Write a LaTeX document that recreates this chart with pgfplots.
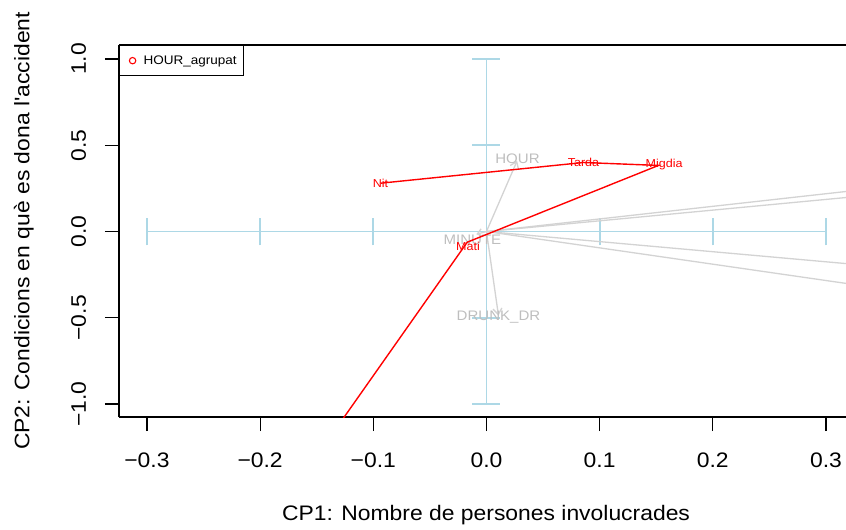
\documentclass[border=0pt]{standalone}
\usepackage{fontspec}
\setmainfont[FakeStretch=1.09]{Liberation Sans}
\newfontfamily\nolig[FakeStretch=1.09, Ligatures=TeXOff]{Liberation Sans}
\usepackage{pgfplots}
\pgfplotsset{compat=1.18}
\usetikzlibrary{arrows.meta}
\definecolor{lblue}{HTML}{ADD8E6}
\definecolor{lgrey}{HTML}{D3D3D3}
\definecolor{tgrey}{HTML}{BEBEBE}
\begin{document}
\begin{tikzpicture}
\begin{axis}[
  at={(0,0)}, anchor=south west,
  scale only axis, width=727bp, height=372bp,
  xmin=-0.3247, xmax=0.3177, ymin=-1.075, ymax=1.081,
  axis x line*=box, axis y line*=left,
  axis line style={black, line width=1.2bp, -},
  xtick={-0.3,-0.2,-0.1,0,0.1,0.2,0.3},
  xticklabels={−0.3,−0.2,−0.1,0.0,0.1,0.2,0.3},
  ytick={-1,-0.5,0,0.5,1},
  yticklabels={−1.0,−0.5,0.0,0.5,1.0},
  xtick pos=bottom, ytick pos=left,
  tick align=outside, major tick length=14bp,
  tick style={black, line width=1.2bp},
  ticklabel style={font=\fontsize{21bp}{25bp}\selectfont},
  xticklabel style={anchor=base, inner sep=0pt, yshift=-36bp},
  yticklabel style={xshift=-19bp, rotate=90, anchor=base, inner sep=0pt},
  every axis x label/.style={at={(axis description cs:0.5,0)}, xshift=3.5bp, yshift=-103bp, anchor=base},
  every axis y label/.style={at={(axis description cs:0,0.5)}, xshift=-89.5bp, rotate=90, anchor=base},
  xlabel={CP1: Nombre de persones involucrades},
  ylabel={CP2: Condicions en què es dona l{\nolig '}accident},
  label style={font=\fontsize{21bp}{25bp}\selectfont},
  clip=true,
  legend style={at={(0,1)}, anchor=north west, draw=black, line width=1.2bp,
    font=\fontsize{12.4bp}{15bp}\selectfont, inner xsep=0pt, inner ysep=10bp,
    nodes={inner xsep=0pt, inner ysep=0pt}},
  legend image code/.code={\path[draw=none, fill=none] (0bp,0bp) rectangle (24bp,0bp); \draw[red, line width=1.1bp] (13bp,0bp) circle (3.2bp);},
  legend cell align=left,
]
\addlegendimage{red}
\addlegendentry{HOUR\_agrupat\kern7bp\mbox{}}
% blue cross
\addplot[lblue, line width=1.9bp, forget plot] coordinates {(-0.3,0) (0.3,0)};
\addplot[lblue, line width=1.9bp, forget plot] coordinates {(0,-1) (0,1)};
\addplot[lblue, line width=1.9bp, forget plot, unbounded coords=jump] coordinates {
 (-0.3,-0.081) (-0.3,0.081) (nan,nan)
 (-0.2,-0.081) (-0.2,0.081) (nan,nan)
 (-0.1,-0.081) (-0.1,0.081) (nan,nan)
 (0,-0.081) (0,0.081) (nan,nan)
 (0.1,-0.081) (0.1,0.081) (nan,nan)
 (0.2,-0.081) (0.2,0.081) (nan,nan)
 (0.3,-0.081) (0.3,0.081)
};
\addplot[lblue, line width=1.9bp, forget plot, unbounded coords=jump] coordinates {
 (-0.0124,-1) (0.0124,-1) (nan,nan)
 (-0.0124,-0.5) (0.0124,-0.5) (nan,nan)
 (-0.0124,0) (0.0124,0) (nan,nan)
 (-0.0124,0.5) (0.0124,0.5) (nan,nan)
 (-0.0124,1) (0.0124,1)
};
% grey variable arrows
\addplot[lgrey, line width=1.3bp, forget plot, -{Straight Barb[length=6bp,width=9bp]}] coordinates {(0,0) (0.0271,0.41)};
\addplot[lgrey, line width=1.3bp, forget plot, -{Straight Barb[length=6bp,width=9bp]}] coordinates {(0,0) (0.0106,-0.487)};
\addplot[lgrey, line width=1.3bp, forget plot, -{Straight Barb[length=5bp,width=8bp]}] coordinates {(0,0) (-0.009,-0.016)};
\addplot[lgrey, line width=1.3bp, forget plot] coordinates {(0,0) (0.6,0.438)};
\addplot[lgrey, line width=1.3bp, forget plot] coordinates {(0,0) (0.6,0.372)};
\addplot[lgrey, line width=1.3bp, forget plot] coordinates {(0,0) (0.6,-0.351)};
\addplot[lgrey, line width=1.3bp, forget plot] coordinates {(0,0) (0.6,-0.568)};
\node[text=tgrey, font=\fontsize{13.8bp}{16bp}\selectfont] at (axis cs:0.0274,0.423) {HOUR};
\node[text=tgrey, font=\fontsize{13.8bp}{16bp}\selectfont] at (axis cs:0.0106,-0.497) {DRUNK\_DR};
\node[text=tgrey, font=\fontsize{13.8bp}{16bp}\selectfont] at (axis cs:-0.0124,-0.046) {MINUTE};
% red category path
\addplot[red, line width=1.4bp, forget plot] coordinates {(-0.0936,0.28) (0.0857,0.40) (0.152,0.383) (-0.017,-0.062) (-0.182,-1.6)};
\node[text=red, font=\fontsize{11.5bp}{14bp}\selectfont] at (axis cs:-0.0936,0.277) {Nit};
\node[text=red, font=\fontsize{11.5bp}{14bp}\selectfont] at (axis cs:0.0857,0.40) {Tarda};
\node[text=red, font=\fontsize{11.5bp}{14bp}\selectfont] at (axis cs:0.157,0.388) {Migdia};
\node[text=red, font=\fontsize{11.5bp}{14bp}\selectfont] at (axis cs:-0.0163,-0.087) {Mati};
\end{axis}
\pgfresetboundingbox
\path (-119bp,-113bp) rectangle (727bp,417bp);
\end{tikzpicture}
\end{document}
